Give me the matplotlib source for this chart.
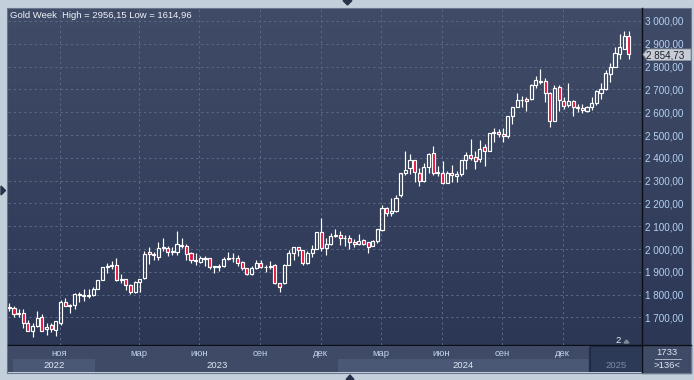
import numpy as np
import matplotlib
matplotlib.use('Agg')
import matplotlib.pyplot as plt
from matplotlib.patches import Rectangle, Polygon
from matplotlib.ticker import FuncFormatter, FixedLocator

plt.rcParams['font.family'] = ['Liberation Sans', 'DejaVu Sans']

# weekly gold candles (Aug 2022 - Feb 2025)
opens = [1747, 1740, 1715, 1718, 1677, 1642, 1663, 1700, 1650, 1665,
         1644, 1677, 1769, 1752, 1754, 1800, 1797, 1796, 1800, 1825,
         1866, 1921, 1926, 1929, 1866, 1867, 1842, 1812, 1854, 1872,
         1987, 1978, 1963, 2006, 2003, 1988, 1988, 2017, 2012, 1984,
         1950, 1944, 1961, 1959, 1921, 1922, 1925, 1955, 1962, 1959,
         1944, 1915, 1889, 1915, 1940, 1920, 1923, 1930, 1849, 1849,
         1932, 1981, 2007, 1996, 1937, 1981, 2002, 2073, 2004, 2020,
         2059, 2062, 2047, 2047, 2029, 2020, 2039, 2029, 2012, 2035,
         2083, 2178, 2156, 2167, 2237, 2332, 2354, 2390, 2332, 2300,
         2361, 2422, 2335, 2335, 2291, 2332, 2321, 2329, 2390, 2412,
         2402, 2393, 2446, 2430, 2507, 2512, 2503, 2496, 2583, 2621,
         2652, 2656, 2656, 2719, 2736, 2737, 2683, 2563, 2712, 2648,
         2632, 2648, 2621, 2620, 2607, 2621, 2639, 2686, 2700, 2768,
         2800, 2854, 2877, 2934]
highs = [1765, 1752, 1735, 1735, 1688, 1676, 1730, 1714, 1674, 1675,
         1685, 1775, 1786, 1760, 1805, 1810, 1824, 1823, 1833, 1866,
         1922, 1937, 1949, 1960, 1890, 1868, 1847, 1858, 1870, 1990,
         2010, 1988, 2032, 2049, 2015, 2009, 2080, 2048, 2023, 1985,
         1983, 1971, 1971, 1960, 1926, 1935, 1963, 1987, 1982, 1974,
         1948, 1916, 1925, 1953, 1953, 1932, 1947, 1936, 1853, 1933,
         1997, 2009, 2009, 1997, 1993, 2017, 2075, 2138, 2047, 2070,
         2088, 2078, 2062, 2062, 2042, 2065, 2044, 2032, 2041, 2088,
         2195, 2185, 2223, 2236, 2330, 2432, 2418, 2392, 2355, 2378,
         2422, 2450, 2364, 2388, 2342, 2368, 2340, 2392, 2424, 2484,
         2432, 2477, 2461, 2509, 2531, 2528, 2529, 2585, 2625, 2685,
         2673, 2665, 2722, 2758, 2790, 2750, 2690, 2721, 2721, 2666,
         2726, 2652, 2638, 2634, 2626, 2665, 2697, 2726, 2786, 2817,
         2886, 2942, 2954, 2956.15]
lows = [1727, 1703, 1700, 1654, 1639, 1615, 1659, 1640, 1623, 1638,
        1617, 1666, 1749, 1721, 1737, 1767, 1773, 1785, 1795, 1824,
        1866, 1896, 1911, 1861, 1852, 1819, 1804, 1805, 1810, 1867,
        1934, 1950, 1950, 1993, 1969, 1975, 1975, 2005, 1952, 1937,
        1932, 1940, 1925, 1913, 1893, 1902, 1922, 1952, 1942, 1926,
        1910, 1885, 1884, 1912, 1915, 1901, 1913, 1846, 1810, 1845,
        1932, 1953, 1970, 1932, 1935, 1965, 1999, 1993, 1973, 2016,
        2052, 2017, 2013, 2002, 2010, 2016, 2016, 1984, 2011, 2025,
        2080, 2146, 2146, 2163, 2228, 2326, 2330, 2292, 2277, 2292,
        2334, 2325, 2320, 2286, 2291, 2295, 2293, 2319, 2351, 2392,
        2353, 2380, 2364, 2428, 2470, 2491, 2471, 2485, 2547, 2621,
        2624, 2604, 2654, 2708, 2725, 2643, 2536, 2563, 2605, 2613,
        2625, 2583, 2603, 2596, 2600, 2610, 2630, 2656, 2699, 2731,
        2797, 2832, 2877, 2832]
closes = [1741, 1715, 1719, 1674, 1642, 1663, 1697, 1642, 1656, 1648,
          1683, 1769, 1751, 1755, 1801, 1798, 1796, 1800, 1823, 1866,
          1921, 1926, 1929, 1866, 1866, 1842, 1812, 1855, 1870, 1979,
          1978, 1974, 2006, 2005, 1985, 1991, 2020, 2013, 1978, 1950,
          1949, 1962, 1958, 1920, 1922, 1925, 1956, 1962, 1960, 1937,
          1915, 1889, 1915, 1940, 1920, 1923, 1925, 1849, 1832, 1930,
          1981, 2007, 1996, 1937, 1981, 2002, 2073, 2003, 2020, 2057,
          2062, 2047, 2049, 2029, 2020, 2036, 2024, 2010, 2035, 2086,
          2178, 2156, 2167, 2222, 2332, 2346, 2390, 2339, 2300, 2361,
          2417, 2332, 2336, 2291, 2332, 2325, 2328, 2390, 2412, 2398,
          2386, 2437, 2430, 2507, 2512, 2504, 2496, 2583, 2621, 2653,
          2655, 2649, 2719, 2741, 2734, 2683, 2563, 2705, 2654, 2629,
          2648, 2621, 2620, 2610, 2621, 2639, 2693, 2700, 2770, 2800,
          2858, 2884, 2934, 2854.73]

month_pos = [11, 28, 41, 54, 67, 80, 93, 106, 119]
month_names = ['ноя', 'мар', 'июн', 'сен', 'дек', 'мар', 'июн', 'сен', 'дек']
year_names = ['2022', '2023', '2024', '2025']
year_first = [0, 19, 71, 125]
price_ticks = list(range(1700, 3001, 100))
last_price = closes[-1]
title = 'Gold Week  High = 2956,15 Low = 1614,96'
bar_count = '1733'
visible = '>136<'

W, H = 694, 380
XL = (-0.28, 135.8)
YL = (1579, 3057)
FS = 6.8

fig = plt.figure(figsize=(W / 100, H / 100), dpi=100)
fig.patch.set_facecolor('#c4cfdc')


def px_axes(x0, y0, x1, y1):
    return fig.add_axes([x0 / W, 1 - y1 / H, (x1 - x0) / W, (y1 - y0) / H])


# background / frame in pixel coords
bg = px_axes(0, 0, W, H)
bg.set_xlim(0, W)
bg.set_ylim(H, 0)
bg.axis('off')
bg.set_zorder(-5)
top = np.array([0x40, 0x4c, 0x67]) / 255
bot = np.array([0x2b, 0x37, 0x55]) / 255
t = np.linspace(0, 1, 256)[:, None]
grad = top + (bot - top) * t
bg.imshow(grad[:, None, :], extent=[8, 691, 345, 8], aspect='auto', zorder=0)
bg.add_patch(Rectangle((642, 345), 49, 27.5, color='#3e4a66', zorder=1))
bg.add_patch(Rectangle((7.5, 7.5), 684, 365.5, fill=False, edgecolor='#69768c', lw=0.8, zorder=3))
bg.plot([642.5, 642.5], [8, 372], color='#0c0f16', lw=1.0, zorder=3)
bg.plot([8, 691], [345.3, 345.3], color='#0c0f16', lw=1.0, zorder=3)
bg.add_patch(Polygon([(343, 0.5), (352, 0.5), (347.5, 5)], color='#27324a', zorder=3))
bg.add_patch(Polygon([(346, 379.5), (354, 379.5), (350, 375)], color='#27324a', zorder=3))
bg.add_patch(Polygon([(1, 186), (1, 195), (5.5, 190.5)], color='#27324a', zorder=3))

# main candle chart
ax = px_axes(8, 8, 642, 345)
ax.set_zorder(1)
ax.set_facecolor('none')
ax.set_xlim(*XL)
ax.set_ylim(*YL)
for s in ax.spines.values():
    s.set_visible(False)

x = np.arange(len(closes))
o = np.array(opens, float)
h = np.array(highs, float)
l = np.array(lows, float)
c = np.array(closes, float)
body_top = np.maximum(o, c)
body_bot = np.minimum(o, c)
ax.vlines(x, body_top, h, color='white', lw=0.85, zorder=3)
ax.vlines(x, l, body_bot, color='white', lw=0.85, zorder=3)
body_h = np.maximum(body_top - body_bot, 2.5)
fill = ['none' if cc >= oo else '#e50f3b' for oo, cc in zip(o, c)]
ax.bar(x, body_h, width=0.66, bottom=body_bot, color=fill, edgecolor='white',
       linewidth=0.85, zorder=4)

ax.yaxis.set_major_locator(FixedLocator(price_ticks))
ax.xaxis.set_major_locator(FixedLocator([p - 0.2 for p in month_pos]))
ax.grid(True, color='#5a6884', lw=0.75, linestyle=(0, (2.2, 2.8)), zorder=1)
ax.yaxis.tick_right()
ax.yaxis.set_major_formatter(FuncFormatter(
    lambda v, p: f'{v:,.2f}'.replace(',', ' ').replace('.', ',')))
ax.tick_params(axis='y', length=0, pad=2.2, labelsize=FS + 0.3, labelcolor='#b4d2f4')
ax.tick_params(axis='x', length=0, labelbottom=False)

# time strip
sx = px_axes(8, 345.5, 642, 372)
sx.set_zorder(1)
sx.set_facecolor('#3e4a66')
sx.set_xlim(*XL)
sx.set_ylim(26.5, 0)
sx.set_xticks([])
sx.set_yticks([])
for s in sx.spines.values():
    s.set_visible(False)
for p, name in zip(month_pos, month_names):
    sx.text(p - 0.2, 8.5, name, ha='center', va='center', fontsize=FS, color='#c3d4ec')
bounds = [max(f - 0.5, 0.8) for f in year_first] + [XL[1]]
for i, name in enumerate(year_names):
    a, b = bounds[i], bounds[i + 1]
    if i == len(year_names) - 1:
        sx.add_patch(Rectangle((a + 0.2, 0.5), b - a - 0.2, 26, facecolor='#2d3a57',
                               edgecolor='#1d2840', lw=0.8))
        sx.plot([a - 0.1, a - 0.1], [1, 26.5], color='#26314a', lw=1.0)
        col = '#7b89a4'
    else:
        if i % 2 == 0:
            sx.add_patch(Rectangle((a, 13.5), b - a, 13, color='#4a5775', lw=0))
        col = '#dde6f2'
    sx.text((a + b) / 2, 20, name, ha='center', va='center', fontsize=FS, color=col)

# overlay texts / markers in pixel coords
ov = px_axes(0, 0, W, H)
ov.set_zorder(5)
ov.set_xlim(0, W)
ov.set_ylim(H, 0)
ov.axis('off')
ov.text(10, 15, title, ha='left', va='center', fontsize=FS, color='#eef2f8')
ov.add_patch(Polygon([(643, 54.5), (647.5, 49), (691, 49), (691, 60.5), (647.5, 60.5)],
                     facecolor='#c8ccd4', edgecolor='#8b94a4', lw=0.6))
ov.text(646.5, 55, f'{last_price:,.2f}'.replace(',', ' ').replace('.', ','),
        ha='left', va='center', fontsize=FS + 0.3, color='#1a2232')
ov.text(618, 340.5, '2', ha='center', va='center', fontsize=FS, color='#e8eef6')
ov.add_patch(Polygon([(624, 343), (629, 343), (626.5, 340)], color='#7d889c'))
ov.text(667, 352.5, bar_count, ha='center', va='center', fontsize=FS, color='#dde6f2')
ov.plot([655, 681], [358.5, 358.5], color='#aab6c8', lw=0.7)
ov.text(667, 365.5, visible, ha='center', va='center', fontsize=FS, color='#dde6f2')

fig.savefig('out.png', dpi=100, facecolor=fig.get_facecolor())
